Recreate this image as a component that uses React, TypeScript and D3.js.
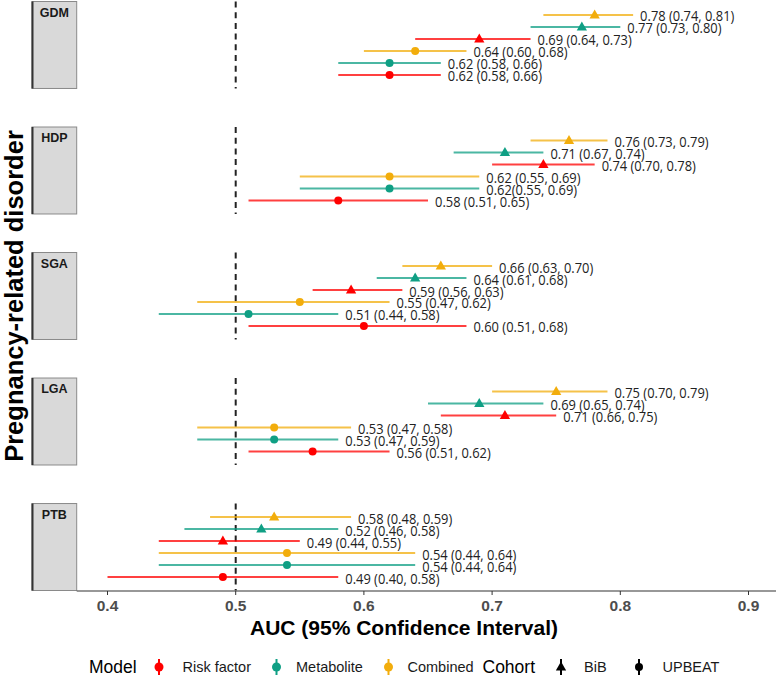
import * as d3 from 'd3';
import React from 'react';

// facets, top to bottom
const disorders = ['GDM', 'HDP', 'SGA', 'LGA', 'PTB'];
// rows inside every facet, top to bottom
const rowModels = ['Combined', 'Metabolite', 'Risk factor', 'Combined', 'Metabolite', 'Risk factor'];
const rowCohorts = ['BiB', 'BiB', 'BiB', 'UPBEAT', 'UPBEAT', 'UPBEAT'];

const aucGDM = [0.78, 0.77, 0.69, 0.64, 0.62, 0.62];
const lowGDM = [0.74, 0.73, 0.64, 0.60, 0.58, 0.58];
const highGDM = [0.81, 0.80, 0.73, 0.68, 0.66, 0.66];
const labelGDM = ['0.78 (0.74, 0.81)', '0.77 (0.73, 0.80)', '0.69 (0.64, 0.73)', '0.64 (0.60, 0.68)', '0.62 (0.58, 0.66)', '0.62 (0.58, 0.66)'];

const aucHDP = [0.76, 0.71, 0.74, 0.62, 0.62, 0.58];
const lowHDP = [0.73, 0.67, 0.70, 0.55, 0.55, 0.51];
const highHDP = [0.79, 0.74, 0.78, 0.69, 0.69, 0.65];
const labelHDP = ['0.76 (0.73, 0.79)', '0.71 (0.67, 0.74)', '0.74 (0.70, 0.78)', '0.62 (0.55, 0.69)', '0.62(0.55, 0.69)', '0.58 (0.51, 0.65)'];

const aucSGA = [0.66, 0.64, 0.59, 0.55, 0.51, 0.60];
const lowSGA = [0.63, 0.61, 0.56, 0.47, 0.44, 0.51];
const highSGA = [0.70, 0.68, 0.63, 0.62, 0.58, 0.68];
const labelSGA = ['0.66 (0.63, 0.70)', '0.64 (0.61, 0.68)', '0.59 (0.56, 0.63)', '0.55 (0.47, 0.62)', '0.51 (0.44, 0.58)', '0.60 (0.51, 0.68)'];

const aucLGA = [0.75, 0.69, 0.71, 0.53, 0.53, 0.56];
const lowLGA = [0.70, 0.65, 0.66, 0.47, 0.47, 0.51];
const highLGA = [0.79, 0.74, 0.75, 0.59, 0.58, 0.62];
const labelLGA = ['0.75 (0.70, 0.79)', '0.69 (0.65, 0.74)', '0.71 (0.66, 0.75)', '0.53 (0.47, 0.58)', '0.53 (0.47, 0.59)', '0.56 (0.51, 0.62)'];

const aucPTB = [0.53, 0.52, 0.49, 0.54, 0.54, 0.49];
const lowPTB = [0.48, 0.46, 0.44, 0.44, 0.44, 0.40];
const highPTB = [0.59, 0.58, 0.55, 0.64, 0.64, 0.58];
const labelPTB = ['0.58 (0.48, 0.59)', '0.52 (0.46, 0.58)', '0.49 (0.44, 0.55)', '0.54 (0.44, 0.64)', '0.54 (0.44, 0.64)', '0.49 (0.40, 0.58)'];

const xTicks = [0.4, 0.5, 0.6, 0.7, 0.8, 0.9];
const refLine = 0.5;

const modelNames = ['Risk factor', 'Metabolite', 'Combined'];
const modelColors = ['#FF0000', '#0F9F84', '#F2AD0C'];
const cohortNames = ['BiB', 'UPBEAT'];

const table: any = {
  GDM: [aucGDM, lowGDM, highGDM, labelGDM],
  HDP: [aucHDP, lowHDP, highHDP, labelHDP],
  SGA: [aucSGA, lowSGA, highSGA, labelSGA],
  LGA: [aucLGA, lowLGA, highLGA, labelLGA],
  PTB: [aucPTB, lowPTB, highPTB, labelPTB],
};

const W = 778;
const H = 682;

const Marker = ({ cohort, cx, cy, fill }: any) => {
  if (cohort === 'BiB') {
    const tri = d3.symbol().type(d3.symbolTriangle).size(46)();
    return <path d={tri as string} transform={`translate(${cx},${cy + 0.5})`} fill={fill} />;
  }
  return <circle cx={cx} cy={cy} r={4} fill={fill} />;
};

const App = () => {
  const x = d3.scaleLinear().domain([0.4, 0.9]).range([107.5, 748.5]);
  const panel = d3.scaleBand().domain(disorders).range([1.5, 590.5]).paddingInner(0.307);
  const row = d3.scalePoint<number>().domain(d3.range(rowModels.length)).range([0, panel.bandwidth()]).padding(1.125);
  const color = d3.scaleOrdinal<string, string>().domain(modelNames).range(modelColors);

  const stripX0 = 32;
  const stripX1 = 76.7;
  const axisY = panel.range()[1] + 0.5;
  const sans = '"Liberation Sans", Arial, sans-serif';

  return (
    <svg width={W} height={H} style={{ position: 'fixed', left: 0, top: 0, background: '#fff' }}>
      {disorders.map((dis) => {
        const top = panel(dis) as number;
        const bw = panel.bandwidth();
        const [auc, low, high, labels] = table[dis];
        return (
          <g key={dis}>
            <rect x={stripX0} y={top} width={stripX1 - stripX0} height={bw} fill="#D9D9D9" stroke="#8A8A8A" strokeWidth={1} />
            <line x1={stripX0 + 0.5} x2={stripX0 + 0.5} y1={top} y2={top + bw} stroke="#333" strokeWidth={2} />
            <text x={(stripX0 + stripX1) / 2} y={top + 15} textAnchor="middle" fontFamily={sans} fontWeight="bold" fontSize={12.5} fill="#1A1A1A">{dis}</text>
            <line x1={x(refLine)} x2={x(refLine)} y1={top} y2={top + bw} stroke="#222" strokeWidth={2} strokeDasharray="6,4.7" />
            {rowModels.map((m, i) => {
              const cy = top + (row(i) as number);
              const c = color(m);
              return (
                <g key={i}>
                  <line x1={x(low[i])} x2={x(high[i])} y1={cy} y2={cy} stroke={c} strokeOpacity={0.75} strokeWidth={2} />
                  <Marker cohort={rowCohorts[i]} cx={x(auc[i])} cy={cy} fill={c} />
                  <text transform={`translate(${x(high[i]) + 7},${cy + 6.5}) scale(0.89,1)`} fontFamily='"Open Sans", sans-serif' fontSize={14.5} fill="#222">{labels[i]}</text>
                </g>
              );
            })}
          </g>
        );
      })}

      {/* x axis */}
      <line x1={stripX1} x2={776} y1={axisY} y2={axisY} stroke="#333" strokeWidth={1.2} />
      {xTicks.map((t) => (
        <g key={t}>
          <line x1={x(t)} x2={x(t)} y1={axisY} y2={axisY + 4} stroke="#333" strokeWidth={1} />
          <text x={x(t)} y={610.5} textAnchor="middle" fontFamily={sans} fontWeight="bold" fontSize={15.5} fill="#4D4D4D">{d3.format('.1f')(t)}</text>
        </g>
      ))}
      <text x={404} y={635} textAnchor="middle" fontFamily={sans} fontWeight="bold" fontSize={21} fill="#000">AUC (95% Confidence Interval)</text>
      <text transform="translate(23,296) rotate(-90)" textAnchor="middle" fontFamily={sans} fontWeight="bold" fontSize={25.5} fill="#000">Pregnancy-related disorder</text>

      {/* legend */}
      <g fontFamily={sans}>
        <text x={89} y={673} fontSize={17.5} fill="#000">Model</text>
        {modelNames.map((m, i) => {
          const kx = [159, 276.5, 388.5][i];
          const tx = [182.5, 296, 407.5][i];
          return (
            <g key={m}>
              <line x1={kx} x2={kx} y1={659} y2={675} stroke={color(m)} strokeWidth={2} />
              <circle cx={kx} cy={667} r={4.5} fill={color(m)} />
              <text x={tx} y={672} fontSize={14.5} fill="#1A1A1A">{m}</text>
            </g>
          );
        })}
        <text x={482.5} y={673} fontSize={17.5} fill="#000">Cohort</text>
        {cohortNames.map((c, i) => {
          const kx = [561, 639][i];
          const tx = [584, 662.5][i];
          return (
            <g key={c}>
              <line x1={kx} x2={kx} y1={659} y2={675} stroke="#000" strokeWidth={2} />
              <Marker cohort={c} cx={kx} cy={667} fill="#000" />
              <text x={tx} y={672} fontSize={14.5} fill="#1A1A1A">{c}</text>
            </g>
          );
        })}
      </g>
    </svg>
  );
};

export default App;
